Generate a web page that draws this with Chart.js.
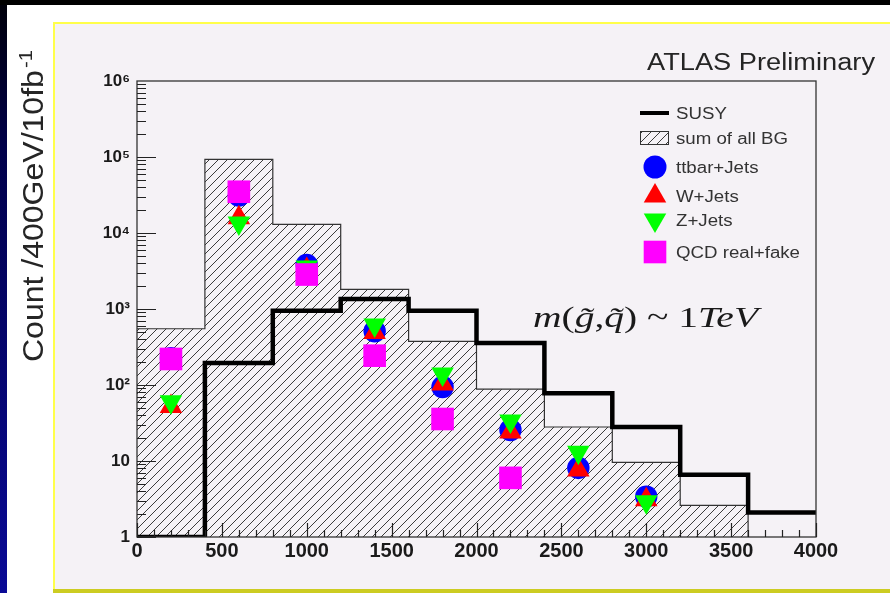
<!DOCTYPE html>
<html lang="en">
<head>
<meta charset="UTF-8">
<title>Count /400GeV/10fb-1 - ATLAS Preliminary</title>
<script src="https://cdn.jsdelivr.net/npm/chart.js"></script>
<style>
  html, body { margin: 0; padding: 0; background: #fff; }
</style>
</head>
<body>
<canvas id="massChart" width="890" height="593"></canvas>
<script>
// histogram bin edges (GeV) and centres where the BG components sit
const binEdges = [0, 400, 800, 1200, 1600, 2000, 2400, 2800, 3200, 3600, 4000];
const binCentres = [200, 600, 1000, 1400, 1800, 2200, 2600, 3000];

// counts per bin
const susy = [1, 195, 950, 1350, 950, 357, 78, 28, 6.6, 2.1];
const sumBG = [550, 93000, 13000, 1810, 376, 88, 28, 9.6, 2.6]; // empty above 3600
const ttbarJets = [226, 31000, 3800, 510, 94, 25.6, 8.1, 3.4];
const wJets = [52, 15900, 3300, 490, 103, 24, 7.6, 3.1];
const zJets = [60, 13500, 3570, 615, 140, 33.6, 13, 2.9];
const qcdRealFake = [220, 34900, 2840, 243, 35.7, 6.0, null, null];

const yMin = 1, yMax = 1e6;
const xTicks = [0, 500, 1000, 1500, 2000, 2500, 3000, 3500, 4000];
const yTicks = [1, 10, 100, 1e3, 1e4, 1e5, 1e6];
const yTickLabels = ['1', '10', '10\u00b2', '10\u00b3', '10\u2074', '10\u2075', '10\u2076'];

const sansFont = '"Liberation Sans", Arial, Helvetica, sans-serif';
const serifFont = '"Liberation Serif", "Times New Roman", serif';

// step points: one per bin left edge, closed at the last edge
function histPoints(values) {
    const pts = values.map((v, i) => ({ x: binEdges[i], y: v }));
    const n = values.length;
    const closeY = n < binEdges.length - 1 ? yMin : values[n - 1];
    pts.push({ x: binEdges[n], y: closeY });
    return pts;
}

function markers(values) {
    return binCentres.map((x, i) => ({ x: x, y: values[i] }));
}

const canvas = document.getElementById('massChart');
const ctx = canvas.getContext('2d');

function makeHatch() {
    const s = 9;
    const tile = document.createElement('canvas');
    tile.width = s; tile.height = s;
    const g = tile.getContext('2d');
    g.strokeStyle = '#3c3c3c';
    g.lineWidth = 1;
    g.beginPath();
    g.moveTo(0, s); g.lineTo(s, 0);
    g.moveTo(-2, 2); g.lineTo(2, -2);
    g.moveTo(s - 2, s + 2); g.lineTo(s + 2, s - 2);
    g.stroke();
    return ctx.createPattern(tile, 'repeat');
}
const hatch = makeHatch();

// same geometry as Chart.js point styles, for the legend
function drawShape(c, style, x, y, r, rot) {
    c.beginPath();
    if (style === 'circle') {
        c.arc(x, y, r, 0, Math.PI * 2);
    } else if (style === 'triangle') {
        let a = (rot || 0) * Math.PI / 180;
        c.moveTo(x + Math.sin(a) * r, y - Math.cos(a) * r);
        a += 2 * Math.PI / 3;
        c.lineTo(x + Math.sin(a) * r, y - Math.cos(a) * r);
        a += 2 * Math.PI / 3;
        c.lineTo(x + Math.sin(a) * r, y - Math.cos(a) * r);
        c.closePath();
    } else if (style === 'rect') {
        const h = Math.SQRT1_2 * r;
        c.rect(x - h, y - h, 2 * h, 2 * h);
    }
    c.fill();
}

function stretchedText(c, text, x, y, width) {
    const w = c.measureText(text).width;
    c.save();
    c.translate(x, y);
    c.scale(width / w, 1);
    c.fillText(text, 0, 0);
    c.restore();
}

const decor = {
    id: 'decor',
    beforeDraw(chart) {
        const c = chart.ctx;
        c.save();
        c.fillStyle = '#ffffff';
        c.fillRect(0, 0, 890, 593);
        c.fillStyle = '#000000';
        c.fillRect(0, 0, 890, 5);
        const grad = c.createLinearGradient(0, 0, 0, 593);
        grad.addColorStop(0, '#000008');
        grad.addColorStop(0.25, '#00004a');
        grad.addColorStop(1, '#0a0a96');
        c.fillStyle = grad;
        c.fillRect(0, 5, 7, 588);
        // light panel with yellow rim
        c.fillStyle = '#f5f2f6';
        c.fillRect(53, 23, 837, 567);
        c.fillStyle = '#ffff4a';
        c.fillRect(53, 22, 837, 2);
        c.fillRect(53, 22, 2, 568);
        c.fillStyle = '#cccc22';
        c.fillRect(53, 589, 837, 4);
        c.restore();
    },
    afterDatasetsDraw(chart) {
        const c = chart.ctx;
        const a = chart.chartArea;
        const xs = chart.scales.x, ys = chart.scales.y;
        c.save();
        c.strokeStyle = '#333333';
        c.lineWidth = 1.3;
        c.strokeRect(a.left, a.top, a.right - a.left, a.bottom - a.top);
        c.lineWidth = 1.2;
        c.strokeStyle = '#222222';
        c.beginPath();
        // ROOT style inward ticks
        for (let d = 0; d < 6; d++) {
            for (let m = 1; m < 10; m++) {
                const py = Math.round(ys.getPixelForValue(m * Math.pow(10, d))) + 0.5;
                const len = m === 1 ? 19 : 9;
                c.moveTo(a.left, py); c.lineTo(a.left + len, py);
            }
        }
        for (let v = 0; v <= 4000; v += 100) {
            const px = Math.round(xs.getPixelForValue(v)) + 0.5;
            const len = v % 500 === 0 ? 14 : 7;
            c.moveTo(px, a.bottom); c.lineTo(px, a.bottom - len);
        }
        c.stroke();
        c.restore();
    },
    afterDraw(chart) {
        const c = chart.ctx;
        c.save();
        c.fillStyle = '#252525';

        // y axis title
        c.save();
        c.translate(43, 362);
        c.rotate(-Math.PI / 2);
        c.font = '30px ' + sansFont;
        const mainTitle = 'Count /400GeV/10fb';
        const w1 = c.measureText(mainTitle).width;
        c.font = '19px ' + sansFont;
        const w2 = c.measureText('-1').width;
        c.scale(312 / (w1 + w2 + 2), 1);
        c.font = '30px ' + sansFont;
        c.fillText(mainTitle, 0, 0);
        c.font = '19px ' + sansFont;
        c.fillText('-1', w1 + 2, -11);
        c.restore();

        // top right label
        c.font = '23px ' + sansFont;
        stretchedText(c, 'ATLAS Preliminary', 647, 70, 228);

        // mass formula
        const segs = [['m', true], ['(', false], ['g\u0303', true], [',', false],
                      ['q\u0303', true], [') ~ 1', false], ['TeV', true]];
        let total = 0;
        segs.forEach(s => {
            c.font = (s[1] ? 'italic ' : '') + '30px ' + serifFont;
            total += c.measureText(s[0]).width;
        });
        c.save();
        c.translate(533, 327);
        c.scale(225 / total, 1);
        let px = 0;
        c.fillStyle = '#1a1a1a';
        segs.forEach(s => {
            c.font = (s[1] ? 'italic ' : '') + '30px ' + serifFont;
            c.fillText(s[0], px, 0);
            px += c.measureText(s[0]).width;
        });
        c.restore();

        // legend
        const items = [
            { label: 'SUSY', kind: 'line', y: 113 },
            { label: 'sum of all BG', kind: 'hatch', y: 138 },
            { label: 'ttbar+Jets', kind: 'circle', color: '#0000ff', r: 11.5, y: 167 },
            { label: 'W+Jets', kind: 'triangle', color: '#ff0000', r: 13, rot: 0, y: 196 },
            { label: 'Z+Jets', kind: 'triangle', color: '#00ff00', r: 13, rot: 180, y: 220 },
            { label: 'QCD real+fake', kind: 'rect', color: '#ff00ff', r: 16, y: 252 }
        ];
        c.font = '16px ' + sansFont;
        const sx = 124 / c.measureText('QCD real+fake').width;
        items.forEach(it => {
            if (it.kind === 'line') {
                c.fillStyle = '#000';
                c.fillRect(640, it.y - 2, 29, 4);
            } else if (it.kind === 'hatch') {
                c.fillStyle = hatch;
                c.fillRect(640, it.y - 7, 29, 14);
                c.strokeStyle = '#333';
                c.lineWidth = 1;
                c.strokeRect(640.5, it.y - 6.5, 28, 13);
            } else {
                c.fillStyle = it.color;
                drawShape(c, it.kind, 655, it.y, it.r, it.rot);
            }
            c.fillStyle = '#333333';
            c.save();
            c.translate(676, it.y + 6);
            c.scale(sx, 1);
            c.fillText(it.label, 0, 0);
            c.restore();
        });
        c.restore();
    }
};

new Chart(ctx, {
    type: 'scatter',
    data: {
        datasets: [
            {
                type: 'line',
                label: 'sum of all BG',
                data: histPoints(sumBG),
                stepped: 'before',
                borderColor: '#333333',
                borderWidth: 1.2,
                backgroundColor: hatch,
                fill: 'start',
                pointRadius: 0,
                order: 10
            },
            {
                type: 'line',
                label: 'SUSY',
                data: histPoints(susy),
                stepped: 'before',
                borderColor: '#000000',
                borderWidth: 4.5,
                borderJoinStyle: 'miter',
                fill: false,
                pointRadius: 0,
                order: 9
            },
            {
                label: 'ttbar+Jets',
                data: markers(ttbarJets),
                pointStyle: 'circle',
                pointRadius: 11.2,
                pointBackgroundColor: '#0000ff',
                pointBorderWidth: 0,
                order: 5
            },
            {
                label: 'W+Jets',
                data: markers(wJets),
                pointStyle: 'triangle',
                pointRadius: 13,
                pointBackgroundColor: '#ff0000',
                pointBorderWidth: 0,
                order: 4
            },
            {
                label: 'Z+Jets',
                data: markers(zJets),
                pointStyle: 'triangle',
                pointRotation: 180,
                pointRadius: 13,
                pointBackgroundColor: '#00ff00',
                pointBorderWidth: 0,
                order: 3
            },
            {
                label: 'QCD real+fake',
                data: markers(qcdRealFake),
                pointStyle: 'rect',
                pointRadius: 16,
                pointBackgroundColor: '#ff00ff',
                pointBorderWidth: 0,
                order: 2
            }
        ]
    },
    options: {
        responsive: false,
        animation: false,
        events: [],
        layout: { padding: { left: 0, right: 74, top: 81, bottom: 0 } },
        plugins: {
            legend: { display: false },
            tooltip: { enabled: false },
            title: { display: false }
        },
        scales: {
            x: {
                type: 'linear',
                min: 0,
                max: 4000,
                afterBuildTicks: s => { s.ticks = xTicks.map(v => ({ value: v })); },
                afterFit: s => { s.height = 56; },
                grid: { display: false, drawTicks: false },
                border: { display: false },
                ticks: {
                    autoSkip: false,
                    maxRotation: 0,
                    padding: 2,
                    color: '#1a1a1a',
                    font: { family: sansFont, size: 20, weight: 'bold' },
                    callback: v => String(v)
                }
            },
            y: {
                type: 'logarithmic',
                min: yMin,
                max: yMax,
                afterBuildTicks: s => { s.ticks = yTicks.map(v => ({ value: v })); },
                afterFit: s => { s.width = 137; },
                grid: { display: false, drawTicks: false },
                border: { display: false },
                ticks: {
                    autoSkip: false,
                    padding: 7,
                    color: '#1a1a1a',
                    font: { family: sansFont, size: 17, weight: 'bold' },
                    callback: v => yTickLabels[yTicks.indexOf(v)]
                }
            }
        }
    },
    plugins: [decor]
});
</script>
</body>
</html>
